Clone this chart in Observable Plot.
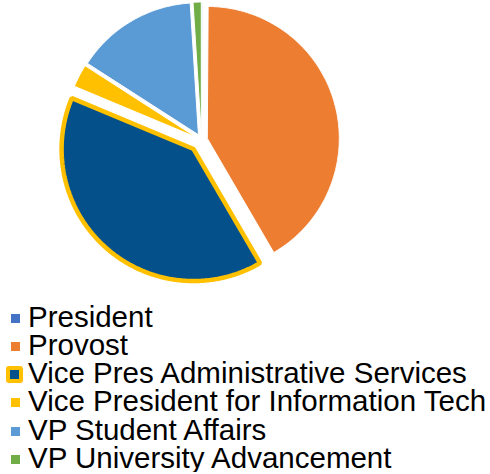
<!DOCTYPE html>
<html>
<head>
<meta charset="utf-8">
<script src="https://cdn.jsdelivr.net/npm/d3@7"></script>
<script src="https://cdn.jsdelivr.net/npm/@observablehq/plot@0.6"></script>
<style>
  html, body { margin: 0; padding: 0; background: #fff; }
  #chart svg { display: block; }
  #legend { font-family: "Liberation Sans", Arial, sans-serif; font-size: 29.5px; color: #000; }
  .row { position: relative; height: 28.3px; white-space: nowrap; }
  .sw { position: absolute; left: 11px; top: 11px; width: 9px; height: 9px; }
  .sw.hl { left: 6px; top: 7px; border: 4.5px solid #FFC000; border-radius: 3px; }
  .lab { position: absolute; left: 28px; top: 0; display: block; height: 28.3px; line-height: 28.3px; }
</style>
</head>
<body>
<div id="chart"></div>
<div id="legend"></div>
<script>
const names = ["President", "Provost", "Vice Pres Administrative Services", "Vice President for Information Tech", "VP Student Affairs", "VP University Advancement"];
const values = [0.1, 41.5, 39.7, 2.8, 14.9, 1.0];
const colors = ["#4472C4", "#ED7D31", "#03508A", "#FFC000", "#5B9BD5", "#70AD47"];
const highlighted = "Vice Pres Administrative Services";

const W = 490, H = 302, R = 132, CX = 201, CY = 139.5;
const gap = 6, gapHi = 12;

const arcs = d3.pie().sort(null).startAngle(0).endAngle(2 * Math.PI)(values);
const pts = [];
arcs.forEach((a, i) => {
  const name = names[i];
  const s = a.startAngle, e = a.endAngle, mid = (s + e) / 2;
  const off = (name === highlighted ? gapHi : gap) / R;
  const ox = off * Math.sin(mid), oy = off * Math.cos(mid);
  const step = Math.PI / 360;
  const push = t => pts.push({name, x: ox + Math.sin(t), y: oy + Math.cos(t)});
  for (let t = mid; t < e; t += step) push(t);
  push(e);
  pts.push({name, x: ox, y: oy});
  for (let t = s; t < mid; t += step) push(t);
  push(mid);
});

const plot = Plot.plot({
  width: W, height: H,
  margin: 0,
  x: {domain: [-CX / R, (W - CX) / R], axis: null},
  y: {domain: [-(H - CY) / R, CY / R], axis: null},
  color: {domain: names, range: colors},
  marks: [
    Plot.line(pts, {x: "x", y: "y", z: "name", fill: "name", stroke: "white", strokeWidth: 1, curve: "linear"}),
    Plot.line(pts.filter(d => d.name === highlighted), {x: "x", y: "y", stroke: "#FFC000", strokeWidth: 4.5, strokeLinejoin: "miter", fill: "none", curve: "linear"})
  ]
});
document.getElementById("chart").appendChild(plot);

const legend = document.getElementById("legend");
legend.style.paddingTop = "0.5px";
names.forEach((n, i) => {
  const row = document.createElement("div");
  row.className = "row";
  const sw = document.createElement("span");
  sw.className = "sw" + (n === highlighted ? " hl" : "");
  sw.style.background = colors[i];
  const lab = document.createElement("span");
  lab.className = "lab";
  lab.textContent = n;
  row.appendChild(sw);
  row.appendChild(lab);
  legend.appendChild(row);
});
</script>
</body>
</html>
